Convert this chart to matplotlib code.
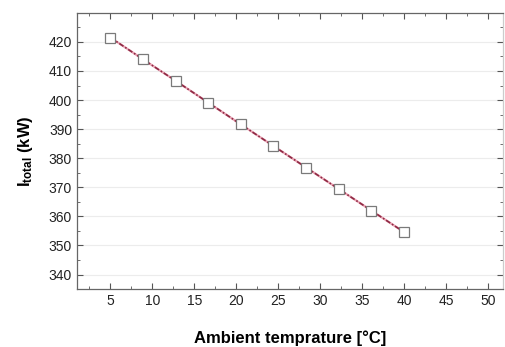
import matplotlib
matplotlib.use('Agg')
import matplotlib.pyplot as plt
from matplotlib.ticker import MultipleLocator

# данные
temp = [5, 8.89, 12.78, 16.67, 20.56, 24.44, 28.33, 32.22, 36.11, 40]
i_total = [421.5, 414.0, 406.6, 399.1, 391.6, 384.2, 376.8, 369.4, 362.0, 354.6]

plt.rcParams['font.family'] = ['Liberation Sans', 'DejaVu Sans']
plt.rcParams['mathtext.fontset'] = 'custom'
plt.rcParams['mathtext.rm'] = 'Liberation Sans'
plt.rcParams['mathtext.bf'] = 'Liberation Sans:bold'

fig = plt.figure(figsize=(5.06, 3.47), dpi=100)
ax = fig.add_axes([0.152, 0.167, 0.842, 0.796])

# розовая подложка линии + тёмный штрих-пунктир поверх
ax.plot(temp, i_total, color='#eaa3b4', linewidth=1.6, zorder=2)
ax.plot(temp, i_total, color='#8e2a44', linewidth=1.2, dashes=(3, 1.2, 1, 1.2),
        marker='s', markersize=7, markerfacecolor='white',
        markeredgecolor='#7a7a7a', markeredgewidth=0.9, zorder=3)

ax.set_xlim(1, 51.8)
ax.set_ylim(335, 430)
ax.xaxis.set_minor_locator(MultipleLocator(2.5))
ax.yaxis.set_minor_locator(MultipleLocator(5))
ax.set_xticks(range(5, 51, 5))
ax.set_yticks(range(340, 421, 10))

ax.grid(axis='y', which='major', color='#ececec', linewidth=0.8)
ax.tick_params(which='both', direction='in', top=True, right=True,
               colors='#555555', labelcolor='#222222', labelsize=10)
ax.tick_params(which='major', length=4)
ax.tick_params(which='minor', length=2.5)
for s in ax.spines.values():
    s.set_color('#666666')
    s.set_linewidth(0.9)
ax.spines['right'].set_color('#cccccc')

ax.set_xlabel('Ambient temprature [°C]', fontsize=12, fontweight='bold', labelpad=16)
ax.set_ylabel(r'$\mathbf{I_{total}}$ (kW)', fontsize=12, fontweight='bold', labelpad=10)

fig.savefig('out.png', dpi=100)
